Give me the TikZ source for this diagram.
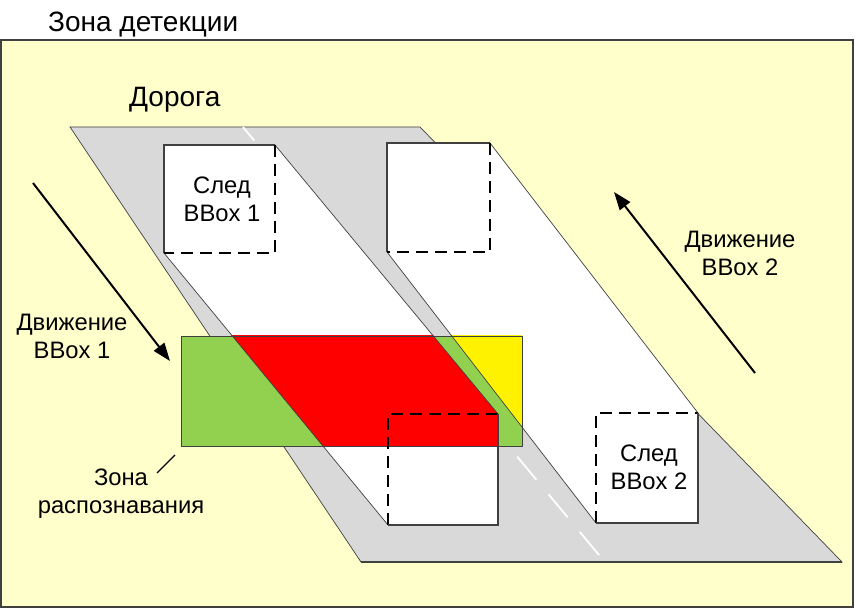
\documentclass[tikz,border=0pt]{standalone}
\usepackage{fontspec}
\setmainfont{Liberation Sans}
\usetikzlibrary{arrows.meta}
\definecolor{zonebg}{HTML}{FFFFCC}
\definecolor{roadgray}{HTML}{D9D9D9}
\definecolor{zonegreen}{HTML}{92D050}
\definecolor{edgegray}{HTML}{404040}
\begin{document}
\begin{tikzpicture}[x=1pt,y=-1pt,
  every node/.style={inner sep=0pt,font=\fontsize{23.8}{28}\selectfont,align=center},
  thin edge/.style={draw=edgegray,line width=0.7pt},
  box solid/.style={draw=edgegray,line width=1.3pt},
  box dashed/.style={draw=black,line width=2pt,dash pattern=on 12pt off 7pt},
  motion/.style={line width=2pt,-{Triangle[length=18pt,width=13pt]}}]
\useasboundingbox (0,0) rectangle (855,609);
\fill[white] (0,0) rectangle (855,609);
\draw[fill=zonebg,draw=edgegray,line width=1.2pt] (1,40) rectangle (853,607);
\node[anchor=base west,font=\fontsize{28}{32}\selectfont] (zone) at (48,32) {Зона детекции};
\node[anchor=base west,font=\fontsize{28}{32}\selectfont] (road) at (129,107) {Дорога};
\draw[fill=roadgray,thin edge] (70,127) -- (420,127) -- (842,562) -- (361,562) -- cycle;
\draw[white,line width=1.8pt,dash pattern=on 30pt off 19pt] (599,555) -- (243,127);
\draw[fill=white,thin edge] (164,145) -- (275,145) -- (498,414) -- (498,525) -- (388,525) -- (164,253) -- cycle;
\draw[fill=white,thin edge] (387,143) -- (490,143) -- (698,413) -- (698,523) -- (596,523) -- (387,252) -- cycle;
\draw[fill=zonegreen,thin edge] (181,336) rectangle (522,446);
\begin{scope}
\clip (181,336) rectangle (522,446);
\draw[fill=red,thin edge] (164,145) -- (275,145) -- (498,414) -- (498,525) -- (388,525) -- (164,253) -- cycle;
\draw[fill=yellow,thin edge] (387,143) -- (490,143) -- (698,413) -- (698,523) -- (596,523) -- (387,252) -- cycle;
\end{scope}
\draw[thin edge] (181,336) rectangle (522,446);
\draw[box solid] (164,253) -- (164,145) -- (275,145);
\draw[box dashed] (275,145) -- (275,253) -- (164,253);
\draw[box solid] (387,252) -- (387,143) -- (490,143);
\draw[box dashed] (490,143) -- (490,252) -- (387,252);
\draw[box dashed] (388,525) -- (388,414) -- (498,414);
\draw[box solid] (498,414) -- (498,525) -- (388,525);
\draw[box dashed] (596,523) -- (596,413) -- (698,413);
\draw[box solid] (698,413) -- (698,523) -- (596,523);
\draw[edgegray,line width=1.2pt] (361,562) -- (842,562);
\node (trail1) at (222,199) {След\\BBox 1};
\node (trail2) at (649,467) {След\\BBox 2};
\node (move1) at (72,336) {Движение\\BBox 1};
\node (move2) at (740,253) {Движение\\BBox 2};
\node (recog) at (121,494) {Зона\\распознавания};
\coordinate (m1s) at (33,183);
\coordinate (m1e) at (170,361);
\coordinate (m2s) at (755,373);
\coordinate (m2e) at (614,192);
\coordinate (lead1) at (175,455);
\coordinate (lead2) at (157,473);
\draw[motion] (m1s) -- (m1e);
\draw[motion] (m2s) -- (m2e);
\draw[line width=1.3pt] (lead1) -- (lead2);
\end{tikzpicture}
\end{document}
